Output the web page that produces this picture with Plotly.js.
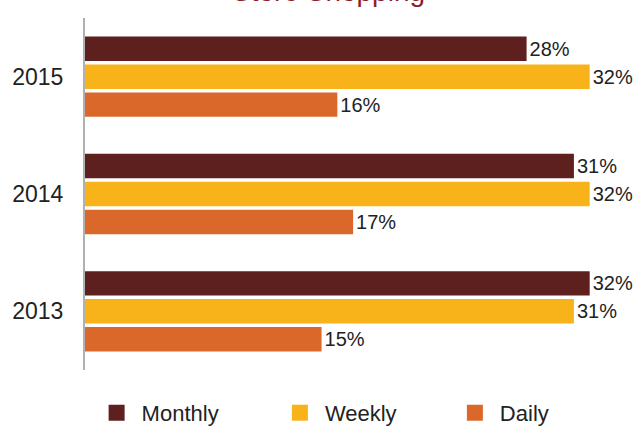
<!DOCTYPE html>
<html>
<head>
<meta charset="utf-8">
<script src="https://cdn.plot.ly/plotly-3.0.1.min.js"></script>
<style>html,body{margin:0;padding:0;background:#fff;}#chart{width:637px;height:427px;}</style>
</head>
<body>
<div id="chart"></div>
<script>
var years = ['2013', '2014', '2015'];
var monthly = [32, 31, 28];
var weekly = [31, 32, 32];
var daily = [15, 17, 16];
var seriesNames = ['Monthly', 'Weekly', 'Daily'];
var titleText = 'Store Shopping';
var colors = {Monthly: '#5e1f1f', Weekly: '#f8b31a', Daily: '#d9682a'};
var legendIds = {Monthly: 'legend', Weekly: 'legend2', Daily: 'legend3'};
var FONT = 'Liberation Sans, Arial, Helvetica, sans-serif';

function pct(a) { return a.map(function (v) { return v + '%'; }); }

function mk(name, vals) {
  return {
    type: 'bar', orientation: 'h', name: name,
    y: years, x: vals,
    text: pct(vals), textposition: 'outside', cliponaxis: false,
    textfont: {family: FONT, size: 20, color: '#222'},
    marker: {color: colors[name]},
    showlegend: false,
    hoverinfo: 'none'
  };
}

// legend entries (square swatches)
function lg(name) {
  return {
    type: 'scatter', mode: 'markers', name: name,
    x: [null], y: [null],
    marker: {symbol: 'square', size: 16, color: colors[name]},
    showlegend: true, legend: legendIds[name], hoverinfo: 'none'
  };
}

var data = [mk('Daily', daily), mk('Weekly', weekly), mk('Monthly', monthly)]
  .concat(seriesNames.map(lg));

function legendAt(x) {
  return {
    orientation: 'h', x: x, xanchor: 'left',
    yref: 'container', y: 0.033, yanchor: 'middle',
    font: {family: FONT, size: 22, color: '#222'},
    itemwidth: 40, bgcolor: 'rgba(0,0,0,0)'
  };
}

var layout = {
  width: 637, height: 427,
  margin: {l: 85, r: 0, t: 18, b: 57},
  paper_bgcolor: '#fff', plot_bgcolor: '#fff',
  barmode: 'group', bargap: 0.285, bargroupgap: 0.125,
  font: {family: FONT, color: '#222'},
  annotations: [{
    text: titleText, showarrow: false,
    font: {family: FONT, size: 28, color: '#8c1c2c'},
    xref: 'paper', yref: 'paper', x: 0.442, xanchor: 'center',
    y: 1.0255, yanchor: 'bottom'
  }],
  xaxis: {range: [0, 35], visible: false, fixedrange: true},
  yaxis: {
    type: 'category', range: [-0.5, 2.5],
    showline: true, linecolor: '#b0b0b0', linewidth: 2,
    showgrid: false, zeroline: false,
    ticks: 'outside', ticklen: 15, tickcolor: 'rgba(0,0,0,0)',
    tickfont: {size: 23, color: '#222'}
  },
  showlegend: true,
  legend: legendAt(0.012),
  legend2: legendAt(0.344),
  legend3: legendAt(0.661)
};

Plotly.newPlot('chart', data, layout, {staticPlot: true});
</script>
</body>
</html>
